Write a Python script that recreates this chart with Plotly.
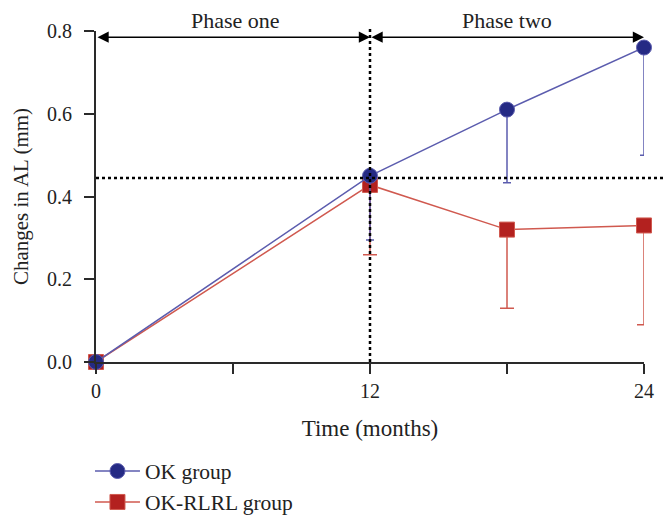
import plotly.graph_objects as go

months = [0, 12, 18, 24]
ok_mean = [0.0, 0.45, 0.61, 0.76]
ok_err_minus = [0.0, 0.155, 0.177, 0.26]
rlrl_mean = [0.0, 0.428, 0.32, 0.33]
rlrl_err_minus = [0.0, 0.169, 0.19, 0.24]
x_ticks = [0, 6, 12, 18, 24]
x_ticktext = ["0", "", "12", "", "24"]
y_ticks = [0.0, 0.2, 0.4, 0.6, 0.8]
y_ticktext = ["0.0", "0.2", "0.4", "0.6", "0.8"]
phase_split = 12
ref_line_y = 0.445
arrow_y = 0.785
y_max = 0.8

FONT = "Liberation Serif, Times New Roman, serif"
BLUE_M = "#252a84"
BLUE_L = "#5b5cae"
RED_M = "#b3211f"
RED_L = "#d0594f"
AXC = "#2a2a2a"

fig = go.Figure()
fig.add_trace(go.Scatter(
    x=months, y=rlrl_mean, name="OK-RLRL group", mode="lines+markers",
    line=dict(color=RED_L, width=1.5),
    marker=dict(symbol="square", size=15, color=RED_M, line=dict(color=RED_L, width=1)),
    error_y=dict(type="data", symmetric=False, array=[0]*len(months), arrayminus=rlrl_err_minus,
                 color=RED_L, thickness=1.5, width=7),
    cliponaxis=False, legendrank=2,
))
fig.add_trace(go.Scatter(
    x=months, y=ok_mean, name="OK group", mode="lines+markers",
    line=dict(color=BLUE_L, width=1.5),
    marker=dict(symbol="circle", size=15, color=BLUE_M, line=dict(color=BLUE_L, width=1)),
    error_y=dict(type="data", symmetric=False, array=[0]*len(months), arrayminus=ok_err_minus,
                 color=BLUE_L, thickness=1.5, width=4),
    cliponaxis=False, legendrank=1,
))

# reference dotted lines
fig.add_shape(type="line", xref="paper", yref="paper", x0=0, x1=1.04,
              y0=ref_line_y / y_max, y1=ref_line_y / y_max,
              line=dict(color="black", width=2.5, dash="dot"), layer="above")
fig.add_shape(type="line", xref="x", yref="paper", x0=phase_split, x1=phase_split,
              y0=0, y1=1.01, line=dict(color="black", width=2.5, dash="dot"), layer="above")

# phase arrows
for x0, x1 in [(0, phase_split), (phase_split, 24)]:
    fig.add_annotation(x=x1, y=arrow_y, ax=x0, ay=arrow_y, xref="x", yref="y",
                       axref="x", ayref="y", text="", showarrow=True,
                       arrowhead=2, startarrowhead=2, arrowside="end+start",
                       arrowsize=1.4, startarrowsize=1.4, arrowwidth=1.6, arrowcolor="black")
fig.add_annotation(x=6.1, y=1.033, xref="x", yref="paper", text="Phase one", showarrow=False,
                   yanchor="middle", font=dict(family=FONT, size=22, color="#222"))
fig.add_annotation(x=18.0, y=1.033, xref="x", yref="paper", text="Phase two", showarrow=False,
                   yanchor="middle", font=dict(family=FONT, size=22, color="#222"))

fig.update_layout(
    width=665, height=520,
    margin=dict(l=96, r=21, t=31, b=158, autoexpand=False),
    plot_bgcolor="white", paper_bgcolor="white",
    font=dict(family=FONT, size=20, color="#222"),
    showlegend=True,
    legend=dict(x=-0.011, y=-0.485, xanchor="left", yanchor="bottom", orientation="v",
                font=dict(family=FONT, size=21.5, color="#222"), itemwidth=45,
                bgcolor="rgba(0,0,0,0)"),
    xaxis=dict(range=[0, 24], tickvals=x_ticks, ticktext=x_ticktext, ticks="outside",
               ticklen=10, tickwidth=1.8, tickcolor=AXC, showline=True, linecolor=AXC,
               linewidth=1.8, showgrid=False, zeroline=False, ticklabelstandoff=0,
               title=dict(text="Time (months)", font=dict(family=FONT, size=23), standoff=19),
               tickfont=dict(family=FONT, size=20)),
    yaxis=dict(range=[0, y_max], tickvals=y_ticks, ticktext=y_ticktext, ticks="outside",
               ticklen=10, tickwidth=1.8, tickcolor=AXC, showline=True, linecolor=AXC,
               linewidth=1.8, showgrid=False, zeroline=False, ticklabelstandoff=8,
               title=dict(text="Changes in AL (mm)", font=dict(family=FONT, size=21), standoff=13),
               tickfont=dict(family=FONT, size=20)),
)

fig.write_html("out.html", config={"displayModeBar": False},
               post_script="document.body.style.margin='0';document.body.style.padding='0';")
